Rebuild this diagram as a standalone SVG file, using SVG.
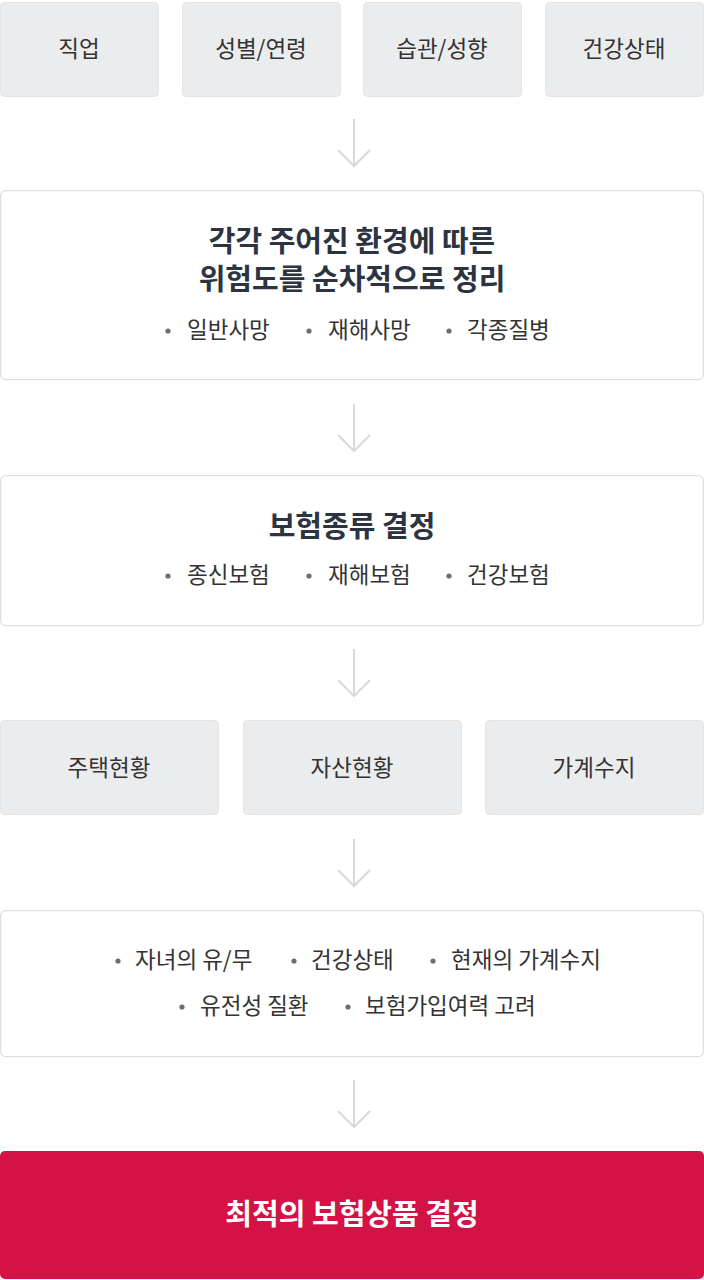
<svg xmlns="http://www.w3.org/2000/svg" width="704" height="1280" viewBox="0 0 704 1280">
<defs>
<style>
.gbox{fill:#ebecee;stroke:#e3e4e6;stroke-width:1}
.wbox{fill:#ffffff;stroke:#dedfe1;stroke-width:1.2}
.rbox{fill:#d31245}
.lbl{font-family:"Noto Sans CJK KR","Noto Sans",sans-serif;font-size:22.5px;fill:#333333}
.ttl{font-family:"Noto Sans CJK KR","Noto Sans",sans-serif;font-weight:bold;font-size:29px;fill:#2b3440}
.item{font-family:"Noto Sans CJK KR","Noto Sans",sans-serif;font-size:22.5px;fill:#333333}
.dot{fill:#6b6e72}
.arr{fill:none;stroke:#d9d9d9;stroke-width:2}
</style>
</defs>
<rect width="704" height="1280" fill="#ffffff"/>

<g id="n-job"><rect class="gbox" x="0.5" y="2.5" width="158" height="94" rx="4"/><text class="lbl" x="79" y="57" text-anchor="middle">직업</text></g>
<g id="n-gender"><rect class="gbox" x="182.5" y="2.5" width="158" height="94" rx="4"/><text class="lbl" x="261" y="57" text-anchor="middle">성별/연령</text></g>
<g id="n-habit"><rect class="gbox" x="363.5" y="2.5" width="158" height="94" rx="4"/><text class="lbl" x="442" y="57" text-anchor="middle">습관/성향</text></g>
<g id="n-health"><rect class="gbox" x="545.5" y="2.5" width="158" height="94" rx="4"/><text class="lbl" x="624" y="57" text-anchor="middle">건강상태</text></g>

<g id="n-risk">
<rect class="wbox" x="0.6" y="190.6" width="702.8" height="189" rx="5"/>
<text class="ttl" x="352" y="252" text-anchor="middle">각각 주어진 환경에 따른</text>
<text class="ttl" x="352" y="290" text-anchor="middle">위험도를 순차적으로 정리</text>
<circle class="dot" cx="168" cy="331" r="2.6"/><text class="item" x="187" y="338">일반사망</text>
<circle class="dot" cx="309" cy="331" r="2.6"/><text class="item" x="328" y="338">재해사망</text>
<circle class="dot" cx="449" cy="331" r="2.6"/><text class="item" x="467" y="338">각종질병</text>
</g>

<g id="n-type">
<rect class="wbox" x="0.6" y="475.6" width="702.8" height="150" rx="5"/>
<text class="ttl" x="352" y="537" text-anchor="middle">보험종류 결정</text>
<circle class="dot" cx="168" cy="576" r="2.6"/><text class="item" x="187" y="583">종신보험</text>
<circle class="dot" cx="309" cy="576" r="2.6"/><text class="item" x="328" y="583">재해보험</text>
<circle class="dot" cx="449" cy="576" r="2.6"/><text class="item" x="467" y="583">건강보험</text>
</g>

<g id="n-house"><rect class="gbox" x="0.5" y="720.5" width="218" height="94" rx="4"/><text class="lbl" x="109" y="776" text-anchor="middle">주택현황</text></g>
<g id="n-asset"><rect class="gbox" x="243.5" y="720.5" width="218" height="94" rx="4"/><text class="lbl" x="352" y="776" text-anchor="middle">자산현황</text></g>
<g id="n-budget"><rect class="gbox" x="485.5" y="720.5" width="218" height="94" rx="4"/><text class="lbl" x="594" y="776" text-anchor="middle">가계수지</text></g>

<g id="n-consider">
<rect class="wbox" x="0.6" y="910.6" width="702.8" height="146" rx="5"/>
<circle class="dot" cx="118" cy="961" r="2.6"/><text class="item" x="135" y="968">자녀의 유/무</text>
<circle class="dot" cx="294" cy="961" r="2.6"/><text class="item" x="311" y="968">건강상태</text>
<circle class="dot" cx="433" cy="961" r="2.6"/><text class="item" x="451" y="968">현재의 가계수지</text>
<circle class="dot" cx="182" cy="1007" r="2.6"/><text class="item" x="200" y="1014">유전성 질환</text>
<circle class="dot" cx="348" cy="1007" r="2.6"/><text class="item" x="365" y="1014">보험가입여력 고려</text>
</g>

<g id="n-result">
<rect class="rbox" x="0" y="1151" width="704" height="128" rx="5"/>
<text x="352" y="1225" font-family="Noto Sans CJK KR, Noto Sans, sans-serif" font-weight="bold" font-size="29" fill="#ffffff" text-anchor="middle">최적의 보험상품 결정</text>
</g>

<g id="connectors">
<path class="arr" d="M354 119V166M338 150L354 166L370 150"/>
<path class="arr" d="M354 404V451M338 435L354 451L370 435"/>
<path class="arr" d="M354 649V696M338 680L354 696L370 680"/>
<path class="arr" d="M354 839V886M338 870L354 886L370 870"/>
<path class="arr" d="M354 1080V1127M338 1111L354 1127L370 1111"/>
</g>
</svg>
